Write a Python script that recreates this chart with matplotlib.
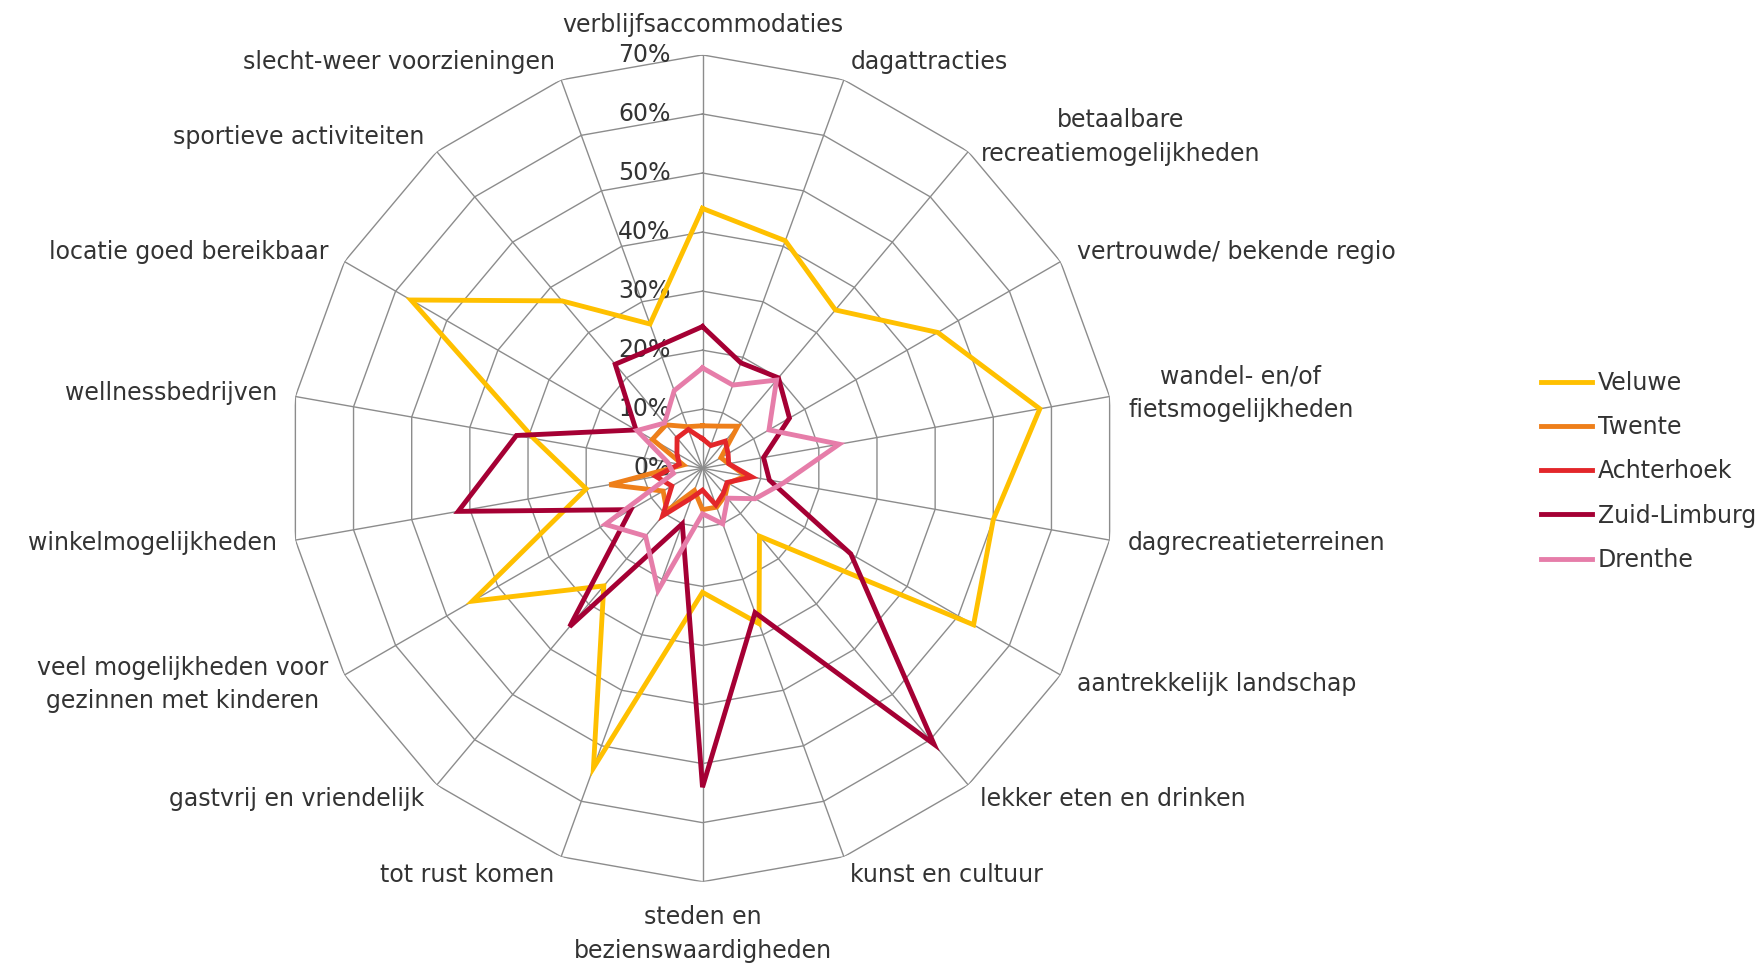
import numpy as np
import matplotlib
matplotlib.use("Agg")
import matplotlib.pyplot as plt

# ====== Data ======
categories = [
    "verblijfsaccommodaties",
    "dagattracties",
    "betaalbare\nrecreatiemogelijkheden",
    "vertrouwde/ bekende regio",
    "wandel- en/of\nfietsmogelijkheden",
    "dagrecreatieterreinen",
    "aantrekkelijk landschap",
    "lekker eten en drinken",
    "kunst en cultuur",
    "steden en\nbezienswaardigheden",
    "tot rust komen",
    "gastvrij en vriendelijk",
    "veel mogelijkheden voor\ngezinnen met kinderen",
    "winkelmogelijkheden",
    "wellnessbedrijven",
    "locatie goed bereikbaar",
    "sportieve activiteiten",
    "slecht-weer voorzieningen",
]

veluwe       = [44, 41, 35, 46, 58, 50, 53, 15, 28, 21, 54, 26, 45, 20, 29, 57, 37, 26]
twente       = [7.2, 7.6, 9.3, 3.6, 4.5, 7.5, 5, 6, 7, 7, 4, 9.4, 7.7, 16, 3.3, 9.8, 9.6, 7.5]
achterhoek   = [5, 4.1, 6, 5, 4.5, 8.5, 4.8, 5.5, 6.6, 3.7, 5.3, 10.5, 6, 8, 4, 5, 6.7, 7]
zuid_limburg = [24, 19, 20, 17, 10.5, 11.5, 29, 61, 26, 54, 10, 35, 14, 42, 32, 13, 23, 22]
drenthe      = [17, 15, 19.5, 13, 23.5, 14, 10.3, 6.6, 10, 7.7, 22, 15, 19, 5, 6, 12.8, 10, 14]

series_names = ["Veluwe", "Twente", "Achterhoek", "Zuid-Limburg", "Drenthe"]
series_values = [veluwe, twente, achterhoek, zuid_limburg, drenthe]
series_colors = ["#FFC000", "#EE7F1A", "#E3262A", "#A50034", "#E67DA9"]

tick_values = [0, 10, 20, 30, 40, 50, 60, 70]
tick_labels = ["0%", "10%", "20%", "30%", "40%", "50%", "60%", "70%"]

# ====== Figure setup ======
W, H = 1764, 964
cx, cy, rad = 702.5, 468.3, 413.4   # centre and outer radius in pixels
text_color = "#333333"
grid_color = "#8C8C8C"
fs = 17

fig = plt.figure(figsize=(W / 100, H / 100), dpi=100)
ax = fig.add_axes([(cx - rad) / W, (H - cy - rad) / H, 2 * rad / W, 2 * rad / H],
                  projection="polar")
ax.set_theta_zero_location("N")
ax.set_theta_direction(-1)
ax.set_ylim(0, 70)
ax.grid(False)
ax.spines["polar"].set_visible(False)
ax.set_xticks([])
ax.set_yticks([])

n = len(categories)
theta = np.arange(n) * 2 * np.pi / n
theta_closed = np.append(theta, theta[0])

# ====== Polygon grid ======
for t in tick_values[1:]:
    ax.plot(theta_closed, [t] * (n + 1), color=grid_color, lw=1.0, zorder=1)
for th in theta:
    ax.plot([th, th], [0, tick_values[-1]], color=grid_color, lw=1.0, zorder=1)

for t, lab in zip(tick_values, tick_labels):
    ax.annotate(lab, xy=(0, t), xytext=(-32, 0), textcoords="offset pixels",
                ha="right", va="center", fontsize=fs, color=text_color)

# ====== Category labels ======
for th, lab in zip(theta, categories):
    deg = np.degrees(th)
    if deg == 0:
        ax.text(th, 73.0, lab, ha="center", va="bottom", fontsize=fs,
                color=text_color, multialignment="center")
    elif abs(deg - 180) < 1e-6:
        ax.text(th, 74.0, lab, ha="center", va="top", fontsize=fs,
                color=text_color, multialignment="center", linespacing=1.5)
    elif deg < 180:
        ax.text(th, 73.2, lab, ha="left", va="center", fontsize=fs,
                color=text_color, multialignment="center", linespacing=1.5)
    else:
        ax.text(th, 73.2, lab, ha="right", va="center", fontsize=fs,
                color=text_color, multialignment="center", linespacing=1.5)

# ====== Series ======
handles = []
for name, vals, col in zip(series_names, series_values, series_colors):
    line, = ax.plot(theta_closed, vals + vals[:1], color=col, lw=3.5,
                    solid_joinstyle="miter", label=name, zorder=3)
    handles.append(line)

leg = fig.legend(handles=handles, loc="center left",
                 bbox_to_anchor=(1541 / W, (H - 471.4) / H),
                 frameon=False, fontsize=fs, handlelength=2.15,
                 handletextpad=0.25, labelspacing=0.86,
                 borderpad=0, borderaxespad=0)
for txt in leg.get_texts():
    txt.set_color(text_color)

fig.savefig("out.png", dpi=100)
